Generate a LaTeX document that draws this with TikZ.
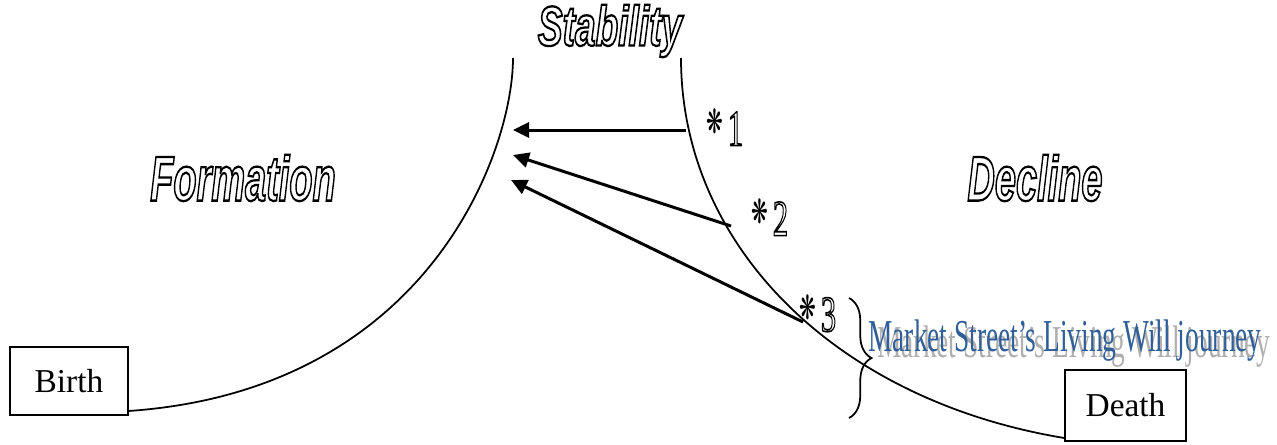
\documentclass[tikz,border=0pt]{standalone}
\usepackage{fontspec}
\setmainfont{Liberation Serif}
\newfontfamily\wordfont{Liberation Sans}
\newfontfamily\starfont{DejaVu Sans}
\usepackage{xcolor}
\usepackage{tikz}
\usetikzlibrary{arrows.meta,positioning,calc,decorations.pathreplacing}
\definecolor{marketblue}{RGB}{47,94,152}
\definecolor{shadowgrey}{RGB}{175,175,175}
% hollow (outlined) letters
\newcommand{\hollow}[2][1.3]{\special{pdf:literal direct 1 Tr #1 w}#2\special{pdf:literal direct 0 Tr}}
\newcommand{\starlabel}[1]{{\starfont\bfseries\fontsize{19}{19}\selectfont\raisebox{7pt}{❋}}\hspace{4pt}\hollow[0.9]{#1}}

\begin{document}
\begin{tikzpicture}[
    x=0.02cm, y=-0.02cm,
    box/.style={rectangle, draw=black, line width=1.1pt, minimum width=2.36cm, minimum height=1.36cm, font=\fontsize{19}{22}\selectfont},
    stage/.style={font=\wordfont\bfseries\itshape\fontsize{36}{40}\selectfont, xscale=0.6, inner sep=0pt},
    marklabel/.style={font=\fontsize{29}{32}\selectfont, xscale=0.6, inner sep=0pt},
    lifeline/.style={line width=1pt},
    arrow/.style={-{Triangle[length=0.32cm,width=0.3cm]}, line width=1.7pt},
    journey/.style={font=\fontsize{26}{30}\selectfont, xscale=0.6, inner sep=0pt}
]
\useasboundingbox (0,0) rectangle (1277,444);

% Boxes
\node[box] (birth) at (69,381) {Birth};
\node[box, minimum width=2.42cm, minimum height=1.42cm] (death) at (1125.5,405.5) {Death};

% Stage names
\node[stage, font=\wordfont\bfseries\itshape\fontsize{32}{36}\selectfont, xscale=1.1] (stability) at (610,31) {\hollow{Stability}};
\node[stage] (formation) at (243,178) {\hollow{Formation}};
\node[stage] (decline) at (1035,178) {\hollow{Decline}};

% Ends of the curves and arrows
\coordinate (stabL) at (513,58);
\coordinate (stabR) at (681,58);
\coordinate (a1) at (686,130);
\coordinate (a2) at (731,226);
\coordinate (a3) at (803,322);
\coordinate (t1) at (513,130);
\coordinate (t2) at (513,155);
\coordinate (t3) at (511,180);

% Curves
\draw[lifeline] ($(birth.south east)+(0,-5)$) .. controls (430,390) and (513,150) .. (stabL);
\draw[lifeline] (stabR) .. controls (681,245) and (835,400) .. ($(death.south west)+(0,-4)$);

% Arrows
\draw[arrow] (a1) -- (t1);
\draw[arrow] (a2) -- (t2);
\draw[arrow] (a3) -- (t3);

% Marks
\node[marklabel] (star1) at (725,127) {\starlabel{1}};
\node[marklabel] (star2) at (770,217) {\starlabel{2}};
\node[marklabel] (star3) at (818,313) {\starlabel{3}};

% Journey
\coordinate (brtop) at (849,298);
\coordinate (brbot) at (849,418);
\draw[decorate, decoration={brace, amplitude=0.45cm}, line width=1pt] (brtop) -- (brbot);
\node[journey, text=shadowgrey] (shadow) at (1074,347) {Market Street's Living Will journey};
\node[journey, text=marketblue] (market) at (1065,341) {Market Street's Living Will journey};

\end{tikzpicture}
\end{document}
